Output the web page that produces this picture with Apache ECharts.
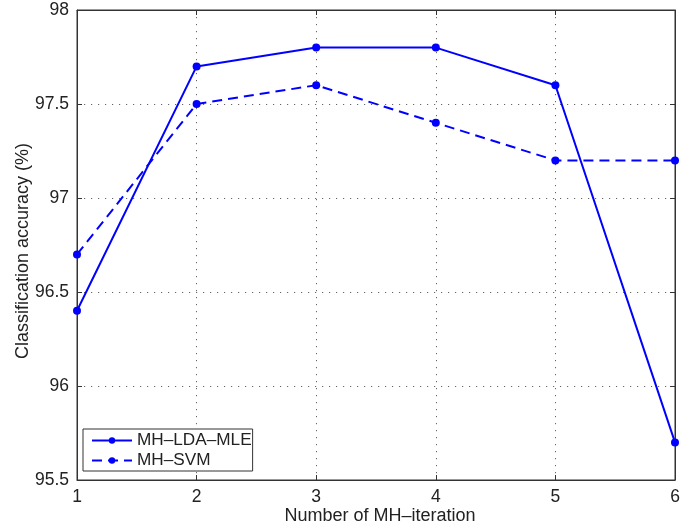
<!DOCTYPE html>
<html>
<head>
<meta charset="utf-8">
<script src="https://cdn.jsdelivr.net/npm/echarts@6/dist/echarts.min.js"></script>
<style>
  html, body { margin: 0; padding: 0; background: #fff; }
  #chart { width: 700px; height: 531px; }
</style>
</head>
<body>
<div id="chart"></div>
<script>
const iterations = [1, 2, 3, 4, 5, 6];
const ldaMle = [96.4, 97.7, 97.8, 97.8, 97.6, 95.7];
const svm = [96.7, 97.5, 97.6, 97.4, 97.2, 97.2];
const yTicks = [95.5, 96, 96.5, 97, 97.5, 98];

const font = 'Liberation Sans, Arial, sans-serif';
const axisColor = '#333';
const textColor = '#222';

function pairs(vals) {
  return vals.map((v, i) => [iterations[i], v]);
}

const myChart = echarts.init(document.getElementById('chart'), null, { renderer: 'canvas' });

const tickStyle = { inside: true, length: 5, lineStyle: { color: axisColor } };
const gridDots = { show: true, lineStyle: { color: '#666', type: [1.2, 5.8], width: 1 } };

const option = {
  animation: false,
  grid: {
    left: 77, right: 25, top: 10, bottom: 51,
    outerBoundsMode: 'none',
    show: true, borderColor: axisColor, borderWidth: 1
  },
  legend: {
    orient: 'vertical',
    left: 83,
    top: 429,
    itemWidth: 40,
    itemHeight: 8,
    itemGap: 3,
    padding: [3, 1, 2, 8],
    backgroundColor: '#fff',
    borderColor: axisColor,
    borderWidth: 1,
    borderRadius: 0,
    textStyle: { fontFamily: font, fontSize: 17.2, color: textColor },
    data: ['MH\u2013LDA\u2013MLE', 'MH\u2013SVM']
  },
  xAxis: [
    {
      type: 'value',
      min: 1, max: 6, interval: 1,
      name: 'Number of MH\u2013iteration',
      nameLocation: 'middle',
      nameGap: 27,
      nameMoveOverlap: false,
      nameTextStyle: { fontFamily: font, fontSize: 18, color: textColor, padding: [0, 0, 0, 8] },
      axisLine: { lineStyle: { color: axisColor } },
      axisTick: tickStyle,
      axisLabel: { fontFamily: font, fontSize: 17.5, color: textColor, margin: 8 },
      splitLine: gridDots
    },
    {
      type: 'value', position: 'top',
      min: 1, max: 6, interval: 1,
      axisLine: { show: true, lineStyle: { color: axisColor } },
      axisTick: tickStyle,
      axisLabel: { show: false },
      splitLine: { show: false }
    }
  ],
  yAxis: [
    {
      type: 'value',
      min: yTicks[0], max: yTicks[yTicks.length - 1], interval: 0.5,
      name: 'Classification accuracy (%)',
      nameLocation: 'middle',
      nameGap: 45,
      nameMoveOverlap: false,
      nameTextStyle: { fontFamily: font, fontSize: 18, color: textColor, padding: [0, 12, 0, 0] },
      axisLine: { show: true, lineStyle: { color: axisColor } },
      axisTick: tickStyle,
      axisLabel: { fontFamily: font, fontSize: 17.5, color: textColor, margin: 8 },
      splitLine: gridDots
    },
    {
      type: 'value', position: 'right',
      min: yTicks[0], max: yTicks[yTicks.length - 1], interval: 0.5,
      axisLine: { show: true, lineStyle: { color: axisColor } },
      axisTick: tickStyle,
      axisLabel: { show: false },
      splitLine: { show: false }
    }
  ],
  series: [
    {
      name: 'MH\u2013LDA\u2013MLE',
      type: 'line',
      data: pairs(ldaMle),
      symbol: 'circle',
      symbolSize: 8,
      color: '#0000ff',
      lineStyle: { width: 2, color: '#0000ff' },
      itemStyle: { color: '#0000ff' }
    },
    {
      name: 'MH\u2013SVM',
      type: 'line',
      data: pairs(svm),
      symbol: 'circle',
      symbolSize: 8,
      color: '#0000ff',
      lineStyle: { width: 2, color: '#0000ff', type: [10, 6] },
      itemStyle: { color: '#0000ff' }
    }
  ]
};

myChart.setOption(option);
</script>
</body>
</html>
